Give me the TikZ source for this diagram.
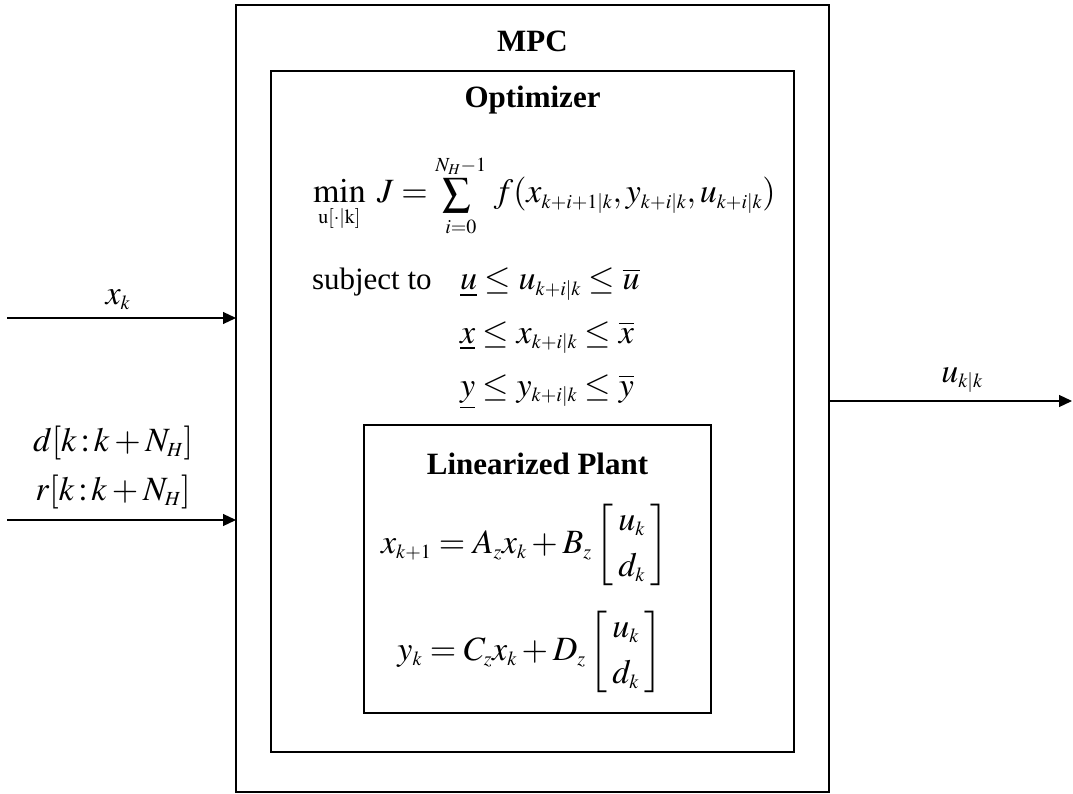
\documentclass[tikz,border=0pt]{standalone}
\usepackage{graphicx}
\usepackage{mathptmx}
\usepackage{fontspec}
\setmainfont{Liberation Serif}
\DeclareMathSizes{34}{34}{20}{15}
\newcommand{\bigsumop}{\mathop{\scalebox{0.82}{$\displaystyle\sum$}}}
\usetikzlibrary{arrows.meta}
\begin{document}
\begin{tikzpicture}[x=1pt,y=-1pt,
  box/.style={draw,line width=2.2pt,inner sep=0pt,outer sep=0pt},
  sig/.style={line width=1.2pt,-{Triangle[length=13pt,width=12pt]}},
  lab/.style={inner sep=0pt,outer sep=0pt,font=\fontsize{31}{37}\selectfont},
  mth/.style={inner sep=0pt,outer sep=0pt,font=\fontsize{34}{40}\selectfont},
  ttl/.style={inner sep=0pt,outer sep=0pt,font=\bfseries\fontsize{31}{37}\selectfont}]
\useasboundingbox (0,0) rectangle (1073,794);
% boxes
\node[box,minimum width=593pt,minimum height=787pt] (mpc) at (532.5,398.5) {};
\node[box,minimum width=523pt,minimum height=681pt] (opt) at (532.5,411.5) {};
\node[box,minimum width=347pt,minimum height=288pt] (plant) at (537.5,569) {};
% titles
\node[ttl,anchor=base] (mpct) at (532.5,52) {MPC};
\node[ttl,anchor=base] (optt) at (532.5,108) {Optimizer};
\node[ttl,anchor=base] (plantt) at (537.5,474) {Linearized Plant};
% cost
\node[mth,anchor=base west] (cost) at (313,203)
  {$\displaystyle \min_{\mathrm{u}[\cdot|\mathrm{k}]}\; J = \bigsumop\limits_{i=0}^{N_H-1}\, f(x_{k+i+1|k},y_{k+i|k},u_{k+i|k})$};
% constraints
\node[lab,anchor=base west] (subj) at (312,290) {subject to};
\node[mth,anchor=base west] (c1) at (460,290) {$\underline{u}\le u_{k+i|k}\le \overline{u}$};
\node[mth,anchor=base west] (c2) at (460,343) {$\underline{x}\le x_{k+i|k}\le \overline{x}$};
\node[mth,anchor=base west] (c3) at (460,396) {$\underline{y}\le y_{k+i|k}\le \overline{y}$};
% plant equations
\node[mth,anchor=east] (e1) at (668,545)
  {$x_{k+1} = A_z x_k + B_z \left[\begin{array}{c}u_k\\[6pt] d_k\end{array}\right]$};
\node[mth,anchor=east] (e2) at (662,652)
  {$y_k = C_z x_k + D_z \left[\begin{array}{c}u_k\\[6pt] d_k\end{array}\right]$};
% signals
\coordinate (xin) at (7,318);
\coordinate (drin) at (7,520);
\coordinate (uout) at (1072,401);
\draw[sig] (xin) -- (mpc.west |- xin);
\draw[sig] (drin) -- (mpc.west |- drin);
\draw[sig] (mpc.east |- uout) -- (uout);
\node[mth] (xl) at (118,300) {$x_k$};
\node[mth] (dl) at (113,443) {$d[k\!:\!k+N_H]$};
\node[mth] (rl) at (113,492) {$r[k\!:\!k+N_H]$};
\node[mth] (ul) at (962,380) {$u_{k|k}$};
\end{tikzpicture}
\end{document}
